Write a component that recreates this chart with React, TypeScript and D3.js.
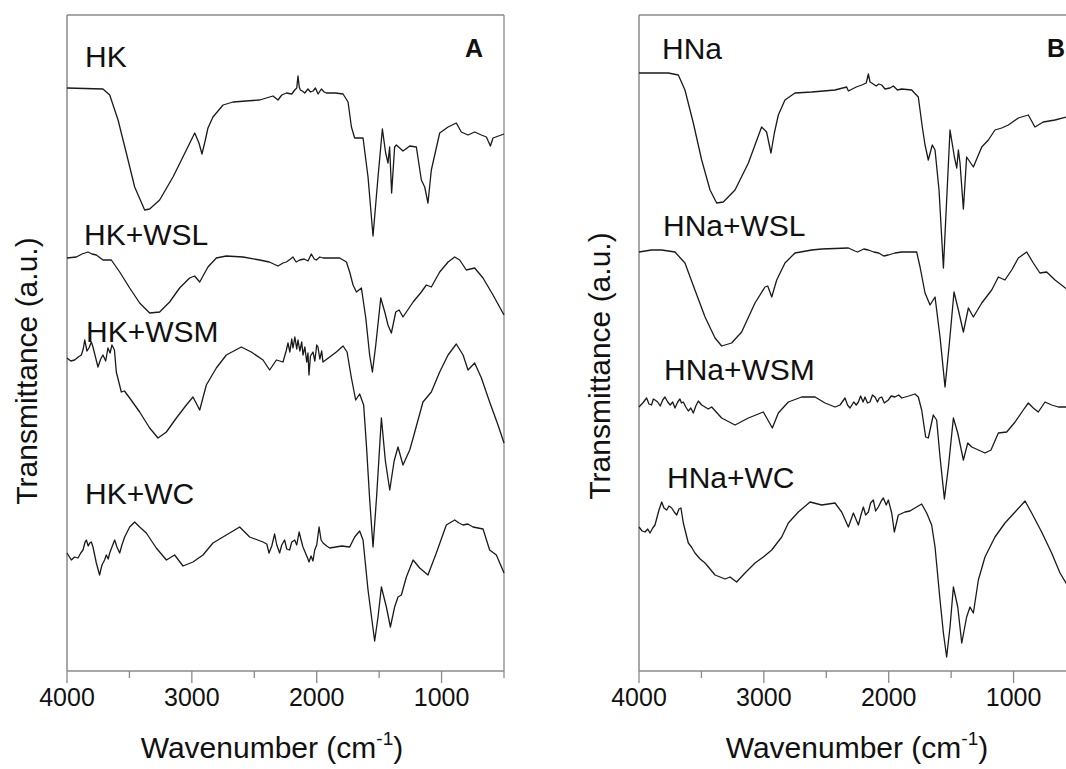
import React from "react";
import * as d3 from "d3";

// ---- data: [wavenumber (cm-1), transmittance (a.u., offset for stacking)] ----
const HK: [number, number][] = [
  [4000, 58.3], [3712, 58.2], [3658, 57.6], [3591, 55.1], [3525, 51.8], [3458, 48.4], [3378, 46.1], [3338, 46.2],
  [3258, 47.1], [3151, 49.4], [3044, 52.1], [2977, 53.8], [2943, 52.8], [2919, 51.7], [2892, 53.1], [2871, 54.3],
  [2831, 55.4], [2750, 56.6], [2670, 56.9], [2457, 57.1], [2350, 57.5], [2330, 57.3], [2310, 57.1], [2280, 57.6],
  [2243, 57.8], [2200, 57.7], [2176, 58.1], [2160, 58.3], [2150, 59.5], [2140, 58.4], [2131, 58.1], [2115, 58.0],
  [2096, 57.8], [2070, 58.2], [2050, 57.9], [2029, 58.0], [2010, 58.3], [1989, 57.7], [1963, 58.2], [1940, 57.9],
  [1923, 57.8], [1850, 57.8], [1789, 57.7], [1749, 56.9], [1722, 54.4], [1696, 53.3], [1629, 53.3], [1589, 49.4],
  [1549, 43.5], [1509, 49.4], [1474, 54.2], [1448, 51.8], [1429, 50.8], [1416, 52.4], [1400, 47.8], [1376, 52.4],
  [1362, 52.6], [1309, 52.0], [1255, 52.5], [1202, 52.4], [1162, 49.1], [1135, 48.4], [1109, 46.8], [1082, 50.1],
  [1015, 53.8], [948, 54.4], [882, 54.8], [842, 53.9], [788, 53.6], [735, 53.9], [681, 53.6], [641, 53.4],
  [609, 52.5], [588, 53.3], [500, 53.7],
];
const HK_WSL: [number, number][] = [
  [4000, 41.3], [3925, 41.4], [3880, 41.7], [3832, 41.9], [3800, 41.7], [3765, 41.6], [3712, 41.1], [3645, 41.1],
  [3578, 39.9], [3498, 38.3], [3418, 36.8], [3338, 35.8], [3258, 35.9], [3178, 36.9], [3098, 38.3], [3018, 39.3],
  [2978, 39.5], [2937, 38.9], [2871, 40.4], [2804, 41.3], [2724, 41.5], [2590, 41.4], [2457, 41.1], [2380, 40.9],
  [2310, 40.5], [2270, 40.8], [2243, 40.9], [2210, 41.2], [2190, 41.4], [2165, 40.9], [2136, 41.1], [2100, 41.2],
  [2070, 41.0], [2043, 41.7], [2020, 41.2], [2003, 41.1], [1975, 41.4], [1949, 41.3], [1816, 41.3], [1762, 40.9],
  [1736, 39.9], [1709, 38.6], [1682, 37.9], [1642, 38.3], [1607, 35.3], [1576, 31.6], [1554, 29.9], [1527, 32.6],
  [1487, 37.3], [1455, 35.9], [1429, 34.6], [1402, 33.8], [1367, 35.9], [1340, 36.1], [1309, 35.4], [1228, 36.9],
  [1162, 37.9], [1122, 38.6], [1082, 38.4], [1015, 39.9], [948, 40.9], [895, 41.4], [855, 41.1], [802, 40.1],
  [735, 40.3], [668, 39.3], [588, 37.6], [500, 35.6],
];
const HK_WSM: [number, number][] = [
  [4000, 31.3], [3970, 31.0], [3939, 31.1], [3910, 31.4], [3885, 31.6], [3870, 32.2], [3858, 33.1], [3840, 32.0],
  [3824, 32.3], [3805, 32.9], [3792, 32.4], [3770, 31.3], [3752, 30.4], [3730, 31.2], [3712, 31.6], [3690, 31.0],
  [3672, 32.3], [3655, 31.8], [3640, 32.6], [3632, 32.4], [3620, 32.1], [3605, 29.9], [3565, 27.9], [3540, 28.0],
  [3498, 27.3], [3418, 25.9], [3338, 24.3], [3271, 23.3], [3204, 23.9], [3124, 25.3], [3044, 26.6], [2991, 27.4],
  [2937, 26.1], [2884, 28.6], [2804, 30.3], [2724, 31.6], [2604, 32.4], [2524, 31.9], [2430, 31.1], [2377, 30.1],
  [2323, 31.1], [2270, 30.9], [2245, 32.0], [2230, 32.8], [2215, 31.9], [2200, 33.2], [2190, 32.3], [2175, 33.4],
  [2160, 32.2], [2150, 33.1], [2135, 32.0], [2120, 32.9], [2110, 31.6], [2095, 32.4], [2080, 30.9], [2070, 31.8],
  [2062, 29.6], [2050, 31.5], [2030, 31.9], [2015, 31.0], [2000, 32.6], [1990, 32.4], [1975, 31.2], [1960, 32.0],
  [1950, 30.9], [1896, 31.4], [1843, 31.9], [1789, 32.5], [1757, 31.9], [1722, 29.3], [1688, 27.1], [1656, 27.7],
  [1624, 26.6], [1602, 22.6], [1575, 17.0], [1549, 12.4], [1520, 17.5], [1482, 25.3], [1450, 21.0], [1415, 18.1],
  [1380, 21.0], [1349, 22.4], [1309, 20.6], [1255, 22.1], [1228, 23.3], [1149, 26.9], [1082, 27.9], [1015, 29.9],
  [948, 31.6], [882, 32.7], [828, 31.6], [788, 30.1], [735, 30.8], [681, 29.3], [615, 26.9], [548, 24.6],
  [500, 22.8],
];
const HK_WC: [number, number][] = [
  [4000, 11.8], [3965, 11.1], [3940, 11.4], [3912, 11.3], [3890, 11.8], [3872, 12.1], [3855, 12.9], [3845, 13.1],
  [3830, 12.5], [3818, 12.8], [3805, 12.9], [3792, 12.4], [3765, 10.8], [3739, 9.6], [3720, 10.6], [3699, 11.1],
  [3685, 11.6], [3670, 11.2], [3658, 11.8], [3640, 12.4], [3618, 13.1], [3600, 12.4], [3578, 11.8], [3560, 12.6],
  [3538, 13.4], [3498, 14.4], [3458, 14.9], [3418, 14.4], [3365, 13.8], [3285, 12.3], [3204, 11.1], [3138, 11.6],
  [3071, 10.5], [2991, 10.9], [2911, 11.6], [2831, 12.8], [2724, 13.6], [2617, 14.4], [2537, 13.4], [2430, 12.9],
  [2400, 12.7], [2382, 11.8], [2360, 12.5], [2337, 13.7], [2320, 12.6], [2297, 11.8], [2280, 12.6], [2257, 13.1],
  [2240, 12.2], [2217, 12.1], [2200, 12.9], [2176, 13.1], [2160, 12.6], [2141, 13.9], [2125, 13.1], [2110, 12.4],
  [2090, 11.8], [2070, 11.2], [2062, 10.9], [2045, 11.5], [2030, 11.0], [2016, 12.1], [2000, 12.6], [1981, 14.4],
  [1965, 13.1], [1949, 12.8], [1920, 12.5], [1896, 12.3], [1800, 12.5], [1736, 12.4], [1696, 13.4], [1656, 14.0],
  [1629, 13.1], [1589, 8.1], [1536, 3.0], [1509, 5.4], [1482, 8.4], [1442, 6.4], [1410, 4.4], [1376, 6.4],
  [1349, 7.4], [1322, 7.6], [1282, 9.4], [1228, 11.1], [1175, 10.3], [1109, 9.6], [1042, 11.8], [962, 14.6],
  [895, 15.1], [860, 14.8], [828, 14.6], [790, 14.7], [748, 14.4], [668, 14.2], [615, 12.1], [561, 11.6],
  [500, 9.8],
];
const HNA: [number, number][] = [
  [4000, 59.8], [3765, 59.8], [3685, 59.6], [3632, 58.1], [3565, 54.8], [3498, 51.1], [3431, 48.1], [3378, 46.8],
  [3325, 46.9], [3231, 48.1], [3124, 50.8], [3018, 54.4], [2978, 53.9], [2943, 51.8], [2916, 53.8], [2884, 55.6],
  [2831, 57.1], [2751, 57.8], [2617, 57.9], [2430, 58.1], [2337, 58.4], [2323, 58.0], [2260, 58.4], [2216, 58.6],
  [2180, 58.8], [2163, 59.7], [2150, 58.9], [2136, 58.8], [2100, 58.5], [2080, 58.7], [2056, 58.6], [2030, 58.2],
  [1990, 58.3], [1963, 58.5], [1930, 58.1], [1896, 58.2], [1816, 58.1], [1763, 57.4], [1731, 54.4], [1709, 52.6],
  [1683, 51.1], [1651, 52.6], [1629, 52.1], [1597, 48.1], [1562, 40.3], [1509, 54.1], [1474, 51.4], [1455, 50.3],
  [1442, 52.1], [1429, 50.8], [1402, 46.2], [1376, 51.4], [1322, 50.4], [1255, 52.4], [1202, 53.1], [1149, 54.1],
  [1095, 54.3], [1042, 54.6], [962, 55.3], [882, 55.6], [829, 54.4], [762, 54.9], [668, 55.1], [575, 55.4],
];
const HNA_WSL: [number, number][] = [
  [4000, 41.9], [3900, 42.1], [3818, 42.1], [3712, 41.9], [3632, 40.8], [3552, 38.1], [3471, 35.4], [3391, 33.3],
  [3338, 32.5], [3258, 32.8], [3178, 33.9], [3071, 36.8], [2991, 38.4], [2969, 38.5], [2937, 37.4], [2897, 39.1],
  [2831, 40.8], [2751, 41.8], [2617, 42.1], [2537, 42.2], [2323, 42.3], [2270, 42.0], [2250, 41.9], [2200, 42.2],
  [2163, 42.1], [2120, 41.9], [2080, 41.8], [2040, 41.5], [2003, 41.6], [1950, 41.8], [1896, 41.9], [1776, 41.9],
  [1749, 40.4], [1709, 37.8], [1669, 36.6], [1629, 37.4], [1589, 33.4], [1549, 28.4], [1514, 32.8], [1477, 37.9],
  [1442, 36.1], [1402, 33.9], [1362, 36.3], [1322, 35.4], [1255, 36.8], [1175, 38.1], [1122, 39.4], [1069, 39.1],
  [1015, 40.1], [962, 41.3], [895, 41.9], [842, 40.8], [789, 39.8], [735, 39.9], [668, 39.1], [575, 38.2],
];
const HNA_WSM: [number, number][] = [
  [4000, 26.4], [3970, 26.8], [3939, 27.3], [3920, 26.7], [3900, 26.6], [3885, 27.2], [3872, 27.1], [3850, 26.9],
  [3830, 26.5], [3810, 27.1], [3792, 27.4], [3770, 26.9], [3750, 26.6], [3730, 26.9], [3712, 26.3], [3690, 26.9],
  [3672, 27.2], [3660, 26.8], [3645, 26.9], [3625, 26.4], [3605, 26.0], [3585, 26.3], [3565, 25.8], [3545, 26.5],
  [3525, 27.0], [3498, 26.6], [3445, 26.2], [3418, 26.4], [3338, 25.3], [3231, 24.6], [3124, 25.3], [3004, 25.9],
  [2932, 24.3], [2884, 25.8], [2804, 26.9], [2697, 27.4], [2590, 27.4], [2510, 26.8], [2430, 26.4], [2390, 26.6],
  [2350, 27.3], [2330, 26.6], [2310, 26.3], [2280, 26.9], [2260, 26.6], [2243, 26.9], [2225, 27.5], [2205, 26.9],
  [2190, 27.4], [2170, 26.8], [2150, 26.9], [2130, 27.6], [2110, 27.4], [2090, 26.9], [2075, 27.3], [2056, 27.4],
  [2035, 26.8], [2003, 27.1], [1980, 27.5], [1950, 27.4], [1920, 27.6], [1896, 27.3], [1840, 27.5], [1790, 27.7],
  [1763, 27.4], [1736, 26.1], [1704, 23.4], [1683, 23.3], [1643, 25.6], [1616, 25.1], [1589, 21.4], [1554, 17.2],
  [1522, 20.4], [1482, 25.3], [1447, 23.8], [1402, 21.1], [1367, 22.8], [1335, 22.4], [1282, 22.1], [1229, 21.8],
  [1181, 22.1], [1122, 23.8], [1055, 23.9], [988, 24.9], [922, 26.1], [882, 26.8], [842, 26.3], [802, 25.9],
  [748, 26.9], [695, 26.6], [642, 26.4], [575, 26.4],
];
const HNA_WC: [number, number][] = [
  [4000, 14.4], [3975, 14.0], [3952, 13.9], [3930, 14.2], [3912, 13.8], [3890, 14.3], [3872, 14.6], [3840, 16.1],
  [3818, 16.9], [3800, 16.3], [3778, 16.1], [3760, 16.5], [3738, 16.3], [3718, 15.9], [3698, 15.6], [3680, 16.2],
  [3664, 16.3], [3645, 14.8], [3605, 12.8], [3580, 12.4], [3552, 11.8], [3510, 11.2], [3471, 10.8], [3391, 9.6],
  [3311, 9.2], [3271, 9.4], [3218, 8.9], [3151, 9.8], [3071, 10.8], [3004, 11.4], [2937, 12.1], [2857, 13.4],
  [2804, 14.8], [2724, 15.9], [2630, 16.9], [2537, 16.6], [2430, 16.8], [2377, 15.9], [2323, 14.4], [2283, 15.8],
  [2243, 14.6], [2220, 15.7], [2203, 16.4], [2185, 15.6], [2163, 15.9], [2145, 16.8], [2123, 17.1], [2105, 16.0],
  [2083, 16.4], [2060, 17.0], [2043, 17.3], [2020, 16.6], [2003, 17.1], [1976, 15.8], [1955, 13.9], [1923, 15.6],
  [1870, 15.9], [1830, 16.0], [1790, 16.3], [1736, 16.7], [1696, 15.8], [1656, 14.6], [1629, 12.4], [1589, 7.1],
  [1562, 3.8], [1536, 1.4], [1509, 4.4], [1482, 8.4], [1447, 6.4], [1415, 2.8], [1376, 5.4], [1349, 6.4],
  [1322, 5.8], [1282, 9.1], [1229, 11.4], [1149, 13.4], [1069, 14.8], [988, 15.9], [908, 17.0], [855, 15.8],
  [775, 13.9], [695, 11.8], [628, 9.8], [575, 8.7],
];

const PANEL_A_SERIES = [HK, HK_WSL, HK_WSM, HK_WC];
const PANEL_B_SERIES = [HNA, HNA_WSL, HNA_WSM, HNA_WC];
const PANEL_A_LABELS = ["HK", "HK+WSL", "HK+WSM", "HK+WC"];
const PANEL_B_LABELS = ["HNa", "HNa+WSL", "HNa+WSM", "HNa+WC"];
const MAJOR_TICKS = [4000, 3000, 2000, 1000];
const MINOR_TICKS = [3500, 2500, 1500, 500];
const X_DOMAIN: [number, number] = [4000, 500];
const Y_DOMAIN: [number, number] = [0, 65.6];

// ---- layout ----
const W = 1066;
const H = 769;
const TOP = 15;
const AXIS_Y = 671;
const PANEL_W = 437;
const FONT = "'Liberation Sans', Arial, sans-serif";
const FRAME = "#8a8a8a";

type PanelProps = {
  left: number;
  series: [number, number][][];
  labels: string[];
  labelPos: [number, number][];
  letter: string;
  letterX: number;
  titleX: number;
  yTitleX: number;
  yTitleY: number;
};

function Panel(p: PanelProps) {
  const x = d3.scaleLinear().domain(X_DOMAIN).range([p.left, p.left + PANEL_W]);
  const y = d3.scaleLinear().domain(Y_DOMAIN).range([AXIS_Y, TOP]);
  const line = d3
    .line<[number, number]>()
    .x((d) => x(d[0]))
    .y((d) => y(d[1]));
  const r = p.left + PANEL_W;
  return (
    <g>
      <line x1={p.left} y1={TOP} x2={r} y2={TOP} stroke={FRAME} strokeWidth={1.3} />
      <line x1={r} y1={TOP} x2={r} y2={AXIS_Y} stroke={FRAME} strokeWidth={1.3} />
      <line x1={p.left} y1={TOP} x2={p.left} y2={AXIS_Y} stroke={FRAME} strokeWidth={1.5} />
      <line x1={p.left} y1={AXIS_Y} x2={r} y2={AXIS_Y} stroke={FRAME} strokeWidth={1.5} />
      {MAJOR_TICKS.map((t) => (
        <g key={"M" + t}>
          <line x1={x(t)} x2={x(t)} y1={AXIS_Y} y2={AXIS_Y + 12} stroke={FRAME} strokeWidth={1.3} />
          <text x={x(t)} y={706} textAnchor="middle" fontSize={25} fontFamily={FONT} fill="#111">
            {t}
          </text>
        </g>
      ))}
      {MINOR_TICKS.map((t) => (
        <line key={"m" + t} x1={x(t)} x2={x(t)} y1={AXIS_Y} y2={AXIS_Y + 7} stroke={FRAME} strokeWidth={1.3} />
      ))}
      {p.series.map((s, i) => (
        <path key={i} d={line(s) || ""} fill="none" stroke="#1a1a1a" strokeWidth={1.3} strokeLinejoin="round" />
      ))}
      {p.labels.map((l, i) => (
        <text key={l} x={p.labelPos[i][0]} y={p.labelPos[i][1]} fontSize={30} fontFamily={FONT} fill="#111">
          {l}
        </text>
      ))}
      <text x={p.letterX} y={57} fontSize={25} fontWeight="bold" fontFamily={FONT} fill="#111">
        {p.letter}
      </text>
      <text x={p.titleX} y={758} textAnchor="middle" fontSize={30} fontFamily={FONT} fill="#111">
        Wavenumber (cm
        <tspan fontSize={19} dy={-13}>-1</tspan>
        <tspan dy={13}>)</tspan>
      </text>
      <text
        transform={`translate(${p.yTitleX},${p.yTitleY}) rotate(-90)`}
        textAnchor="middle"
        fontSize={30}
        fontFamily={FONT}
        fill="#111"
      >
        Transmittance (a.u.)
      </text>
    </g>
  );
}

export default function App() {
  return (
    <svg width={W} height={H} style={{ position: "absolute", left: 0, top: 0, background: "#fff" }}>
      <rect x={0} y={0} width={W} height={H} fill="#fff" />
      <Panel
        left={67}
        series={PANEL_A_SERIES}
        labels={PANEL_A_LABELS}
        labelPos={[[85, 67], [84, 245], [86, 342], [85, 504]]}
        letter="A"
        letterX={465}
        titleX={272}
        yTitleX={37}
        yTitleY={371}
      />
      <Panel
        left={639}
        series={PANEL_B_SERIES}
        labels={PANEL_B_LABELS}
        labelPos={[[662, 59], [663, 236], [664, 380], [667, 488]]}
        letter="B"
        letterX={1047}
        titleX={857}
        yTitleX={610}
        yTitleY={366}
      />
    </svg>
  );
}
